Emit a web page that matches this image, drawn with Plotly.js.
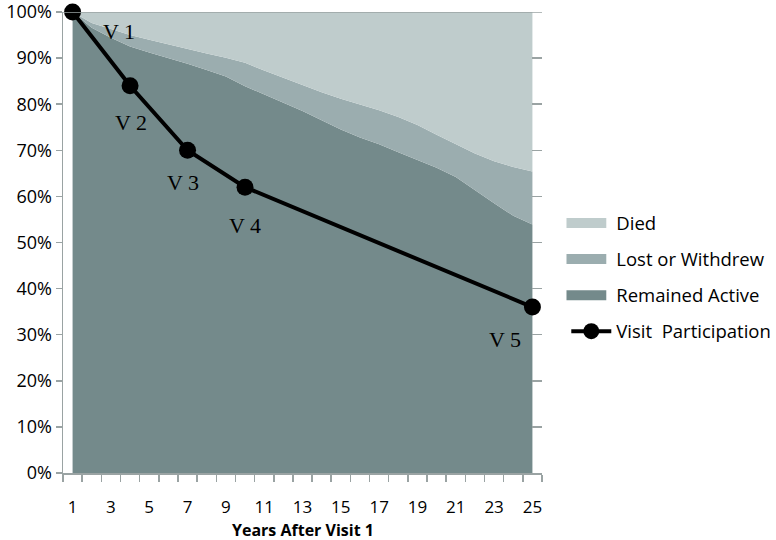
<!DOCTYPE html>
<html>
<head>
<meta charset="utf-8">
<script src="https://cdn.plot.ly/plotly-3.0.1.min.js"></script>
<style>html,body{margin:0;padding:0;background:#fff;}#chart{width:776px;height:540px;}</style>
</head>
<body>
<div id="chart"></div>
<script>
// Years after visit 1
var years = [1,2,3,4,5,6,7,8,9,10,11,12,13,14,15,16,17,18,19,20,21,22,23,24,25];
// Stacked shares (percent)
var remainedActive = [100,96.6,94.4,92.5,91.2,90.0,88.8,87.4,86.0,83.9,82.1,80.3,78.5,76.5,74.5,72.8,71.3,69.6,67.9,66.2,64.2,61.3,58.5,55.8,53.9];
var lostOrWithdrew = [0,1.0,1.9,2.5,2.8,3.0,3.1,3.6,4.1,5.1,5.2,5.4,5.6,6.1,6.7,7.2,7.4,7.6,7.6,7.2,7.2,8.0,9.1,10.6,11.5];
var died = [0,2.4,3.7,5.0,6.0,7.0,8.1,9.0,9.9,11.0,12.7,14.3,15.9,17.4,18.8,20.0,21.3,22.8,24.5,26.6,28.6,30.7,32.4,33.6,34.6];
// Visit participation
var visitYears = [1,4,7,10,25];
var visitPct = [100,84,70,62,36];
var visitLabels = ["V 1","V 2","V 3","V 4","V 5"];
var labelShiftX = [46,1,-5,0,-27];
var labelShiftY = [-19,-37,-32,-38,-32];
// Axis tick labels and title
var xTickVals = [1,3,5,7,9,11,13,15,17,19,21,23,25];
var xTitle = 'Years After Visit 1';
var xBoundaries = [];
for (var i = 0; i <= years.length; i++) xBoundaries.push(years[0] - 0.5 + i);

var axisGray = '#9aa3a3';
var fontFam = '"Open Sans", Lato, sans-serif';
var tickFont = {family: fontFam, size: 18, color: '#000'};

var traces = [
  {x: years, y: remainedActive, name: 'Remained Active', type: 'scatter', mode: 'lines',
   stackgroup: 'one', line: {width: 0, color: '#748a8b'}, fillcolor: '#748a8b',
   legendgroup: 'g3', legendrank: 3, hoverinfo: 'skip'},
  {x: years, y: lostOrWithdrew, name: 'Lost or Withdrew', type: 'scatter', mode: 'lines',
   stackgroup: 'one', line: {width: 0, color: '#9badaf'}, fillcolor: '#9badaf',
   legendgroup: 'g2', legendrank: 2, hoverinfo: 'skip'},
  {x: years, y: died, name: 'Died', type: 'scatter', mode: 'lines',
   stackgroup: 'one', line: {width: 0, color: '#bfcccc'}, fillcolor: '#bfcccc',
   legendgroup: 'g1', legendrank: 1, hoverinfo: 'skip'},
  {x: visitYears, y: visitPct, name: 'Visit  Participation', type: 'scatter', mode: 'lines+markers',
   yaxis: 'y2', line: {width: 4, color: '#000'}, marker: {size: 17, color: '#000'},
   legendgroup: 'g4', legendrank: 4, cliponaxis: false}
];

var annotations = visitLabels.map(function (t, i) {
  return {x: visitYears[i], y: visitPct[i], xref: 'x', yref: 'y', text: t, showarrow: false,
    xshift: labelShiftX[i], yshift: labelShiftY[i],
    font: {family: '"Liberation Serif", "Times New Roman", serif', size: 22, color: '#000'}};
});
// x-axis title (placed as an annotation so it sits clear of the tick labels)
annotations.push({x: 0.5, y: 0, xref: 'paper', yref: 'paper', text: '<b>' + xTitle + '</b>', showarrow: false,
  yanchor: 'middle', xanchor: 'center', yshift: -56.5, borderpad: 0,
  font: {family: fontFam, size: 16, color: '#000'}});

var layout = {
  width: 776, height: 540,
  margin: {l: 63, r: 234, t: 12, b: 67, pad: 0, autoexpand: false},
  paper_bgcolor: '#fff', plot_bgcolor: '#fff',
  showlegend: true,
  legend: {x: 1.0507, y: 0.424, xanchor: 'left', yanchor: 'middle', font: {family: fontFam, size: 18.5, color: '#000'},
    tracegroupgap: 9, itemwidth: 40, bgcolor: 'rgba(0,0,0,0)'},
  xaxis: {range: [0.5, 25.5], tickmode: 'array', tickvals: xTickVals, ticktext: xTickVals.map(String),
    ticks: '', showgrid: false, zeroline: false, showline: true, linecolor: axisGray, linewidth: 1.5,
    tickfont: {family: fontFam, size: 17, color: '#000'}, ticklabelstandoff: 18, ticklabeloverflow: 'allow', automargin: false,
    minor: {tickmode: 'array', tickvals: xBoundaries, ticks: 'outside', ticklen: 7, tickcolor: axisGray, tickwidth: 1.5, showgrid: false}},
  yaxis: {range: [0, 100], dtick: 10, ticksuffix: '%', ticks: 'outside', ticklen: 6, tickcolor: axisGray, tickwidth: 1.5,
    showgrid: false, zeroline: false, showline: true, linecolor: axisGray, linewidth: 1.5, tickfont: tickFont,
    ticklabeloverflow: 'allow', automargin: false},
  yaxis2: {range: [0, 100], dtick: 10, overlaying: 'y', side: 'right', ticks: 'inside', ticklen: 10, tickcolor: axisGray, tickwidth: 1.5,
    showticklabels: false, showgrid: false, zeroline: false, showline: false},
  shapes: [{type: 'line', xref: 'paper', yref: 'y', x0: 0, x1: 1, y0: 100, y1: 100, line: {color: axisGray, width: 1.5}, layer: 'above'}],
  annotations: annotations
};

Plotly.newPlot('chart', traces, layout, {displayModeBar: false, staticPlot: true}).then(function (gd) {
  // Make the area legend swatches solid blocks like the reference
  var paths = gd.querySelectorAll('.legendfill path');
  for (var k = 0; k < paths.length; k++) {
    paths[k].setAttribute('d', 'M0,-5h40v10h-40z');
  }
});
</script>
</body>
</html>
